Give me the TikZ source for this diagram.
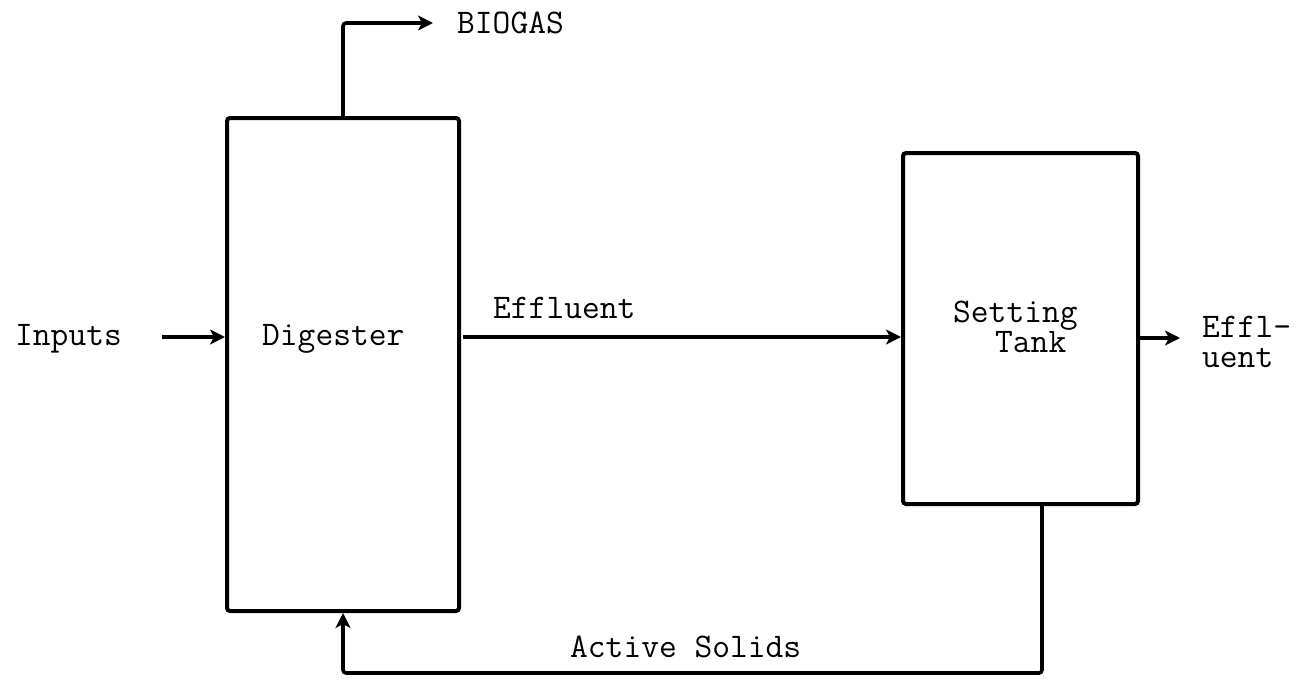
\documentclass[tikz,border=0pt]{standalone}
\usetikzlibrary{arrows.meta}
\begin{document}
\begin{tikzpicture}[x=1pt,y=-1pt,
  unit/.style={draw, line width=4pt, rounded corners=3pt, inner sep=0pt},
  flow/.style={line width=3.6pt, rounded corners=3pt, -{Stealth[length=15pt,width=15pt,inset=4pt]}},
  lbl/.style={inner sep=0pt, anchor=base west, align=left, font=\ttfamily\fontsize{34.5}{30}\selectfont}]
\useasboundingbox (0,0) rectangle (1307,680);
% units
\node[unit, minimum width=232pt, minimum height=493pt] (digester) at (343,364.5) {};
\node[unit, minimum width=235pt, minimum height=351pt] (tank) at (1020.5,328.5) {};
% labels
\node[lbl] (digtxt) at (262,345) {Digester};
\node[lbl] (settxt) at (953,352) {Setting\\\hspace*{42pt}Tank};
\node[lbl] (inputs) at (15,345) {Inputs};
\node[lbl] (biogas) at (457,33) {BIOGAS};
\node[lbl] (efftxt) at (493,318) {Effluent};
\node[lbl] (outtxt) at (1202,367) {Effl-\\uent};
\node[lbl] (solids) at (570,657) {Active Solids};
% connector ends
\coordinate (gasend) at (433,23);
\coordinate (in0) at (162,337);
\coordinate (ef0) at (463,337);
\coordinate (out0) at (1180,338);
\coordinate (rc) at (1042,673);
% connectors
\draw[flow] (digester.north) |- (gasend);
\draw[flow] (in0) -- (in0 -| digester.west);
\draw[flow] (ef0) -- (ef0 -| tank.west);
\draw[flow] (out0 -| tank.east) -- (out0);
\draw[flow] (tank.south -| rc) -- (rc) -| (digester.south);
\end{tikzpicture}
\end{document}
